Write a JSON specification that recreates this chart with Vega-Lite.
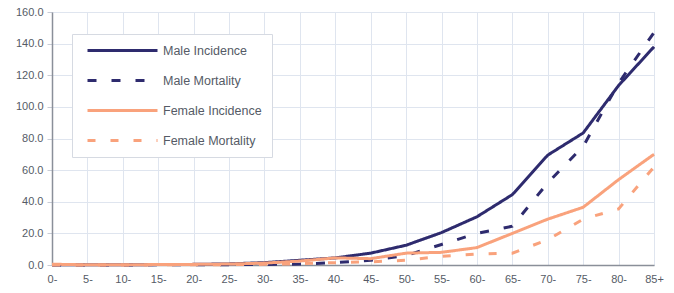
{
  "$schema": "https://vega.github.io/schema/vega-lite/v6.json",
  "width": 602,
  "height": 253,
  "autosize": "none",
  "padding": {"left": 52, "top": 12, "right": 20, "bottom": 28},
  "background": "white",
  "config": {
    "view": {"stroke": "#c8ccd6", "strokeWidth": 1},
    "font": "Liberation Sans"
  },
  "datasets": {
    "d": [
      {"age": "0-", "series": "Male Incidence", "value": 0.2},
      {"age": "5-", "series": "Male Incidence", "value": 0.1},
      {"age": "10-", "series": "Male Incidence", "value": 0.1},
      {"age": "15-", "series": "Male Incidence", "value": 0.3},
      {"age": "20-", "series": "Male Incidence", "value": 0.4},
      {"age": "25-", "series": "Male Incidence", "value": 0.7},
      {"age": "30-", "series": "Male Incidence", "value": 1.5},
      {"age": "35-", "series": "Male Incidence", "value": 3.0},
      {"age": "40-", "series": "Male Incidence", "value": 4.5},
      {"age": "45-", "series": "Male Incidence", "value": 7.5},
      {"age": "50-", "series": "Male Incidence", "value": 12.5},
      {"age": "55-", "series": "Male Incidence", "value": 20.5},
      {"age": "60-", "series": "Male Incidence", "value": 30.5},
      {"age": "65-", "series": "Male Incidence", "value": 44.5},
      {"age": "70-", "series": "Male Incidence", "value": 69.5},
      {"age": "75-", "series": "Male Incidence", "value": 83.5},
      {"age": "80-", "series": "Male Incidence", "value": 113.5},
      {"age": "85+", "series": "Male Incidence", "value": 138.0},
      {"age": "0-", "series": "Male Mortality", "value": 0.0},
      {"age": "5-", "series": "Male Mortality", "value": 0.0},
      {"age": "10-", "series": "Male Mortality", "value": 0.0},
      {"age": "15-", "series": "Male Mortality", "value": 0.1},
      {"age": "20-", "series": "Male Mortality", "value": 0.1},
      {"age": "25-", "series": "Male Mortality", "value": 0.2},
      {"age": "30-", "series": "Male Mortality", "value": 0.3},
      {"age": "35-", "series": "Male Mortality", "value": 0.6},
      {"age": "40-", "series": "Male Mortality", "value": 1.5},
      {"age": "45-", "series": "Male Mortality", "value": 3.0},
      {"age": "50-", "series": "Male Mortality", "value": 6.0},
      {"age": "55-", "series": "Male Mortality", "value": 13.0},
      {"age": "60-", "series": "Male Mortality", "value": 20.0},
      {"age": "65-", "series": "Male Mortality", "value": 24.5},
      {"age": "70-", "series": "Male Mortality", "value": 52.0},
      {"age": "75-", "series": "Male Mortality", "value": 75.0},
      {"age": "80-", "series": "Male Mortality", "value": 115.0},
      {"age": "85+", "series": "Male Mortality", "value": 147.0},
      {"age": "0-", "series": "Female Incidence", "value": 0.5},
      {"age": "5-", "series": "Female Incidence", "value": 0.1},
      {"age": "10-", "series": "Female Incidence", "value": 0.1},
      {"age": "15-", "series": "Female Incidence", "value": 0.3},
      {"age": "20-", "series": "Female Incidence", "value": 0.4},
      {"age": "25-", "series": "Female Incidence", "value": 0.6},
      {"age": "30-", "series": "Female Incidence", "value": 1.2},
      {"age": "35-", "series": "Female Incidence", "value": 2.5},
      {"age": "40-", "series": "Female Incidence", "value": 4.5},
      {"age": "45-", "series": "Female Incidence", "value": 4.0},
      {"age": "50-", "series": "Female Incidence", "value": 7.5},
      {"age": "55-", "series": "Female Incidence", "value": 8.0},
      {"age": "60-", "series": "Female Incidence", "value": 11.0},
      {"age": "65-", "series": "Female Incidence", "value": 20.0},
      {"age": "70-", "series": "Female Incidence", "value": 29.0},
      {"age": "75-", "series": "Female Incidence", "value": 36.5},
      {"age": "80-", "series": "Female Incidence", "value": 54.0},
      {"age": "85+", "series": "Female Incidence", "value": 70.0},
      {"age": "0-", "series": "Female Mortality", "value": 0.0},
      {"age": "5-", "series": "Female Mortality", "value": 0.0},
      {"age": "10-", "series": "Female Mortality", "value": 0.0},
      {"age": "15-", "series": "Female Mortality", "value": 0.1},
      {"age": "20-", "series": "Female Mortality", "value": 0.1},
      {"age": "25-", "series": "Female Mortality", "value": 0.2},
      {"age": "30-", "series": "Female Mortality", "value": 0.4},
      {"age": "35-", "series": "Female Mortality", "value": 0.8},
      {"age": "40-", "series": "Female Mortality", "value": 1.5},
      {"age": "45-", "series": "Female Mortality", "value": 2.0},
      {"age": "50-", "series": "Female Mortality", "value": 3.0},
      {"age": "55-", "series": "Female Mortality", "value": 5.5},
      {"age": "60-", "series": "Female Mortality", "value": 7.0},
      {"age": "65-", "series": "Female Mortality", "value": 7.5},
      {"age": "70-", "series": "Female Mortality", "value": 16.0},
      {"age": "75-", "series": "Female Mortality", "value": 29.0},
      {"age": "80-", "series": "Female Mortality", "value": 35.5},
      {"age": "85+", "series": "Female Mortality", "value": 62.0}
    ]
  },
  "data": {"name": "d"},
  "mark": {"type": "line", "strokeWidth": 3},
  "encoding": {
    "x": {
      "field": "age", "type": "ordinal",
      "sort": ["0-","5-","10-","15-","20-","25-","30-","35-","40-","45-","50-","55-","60-","65-","70-","75-","80-","85+"],
      "scale": {"type": "point", "padding": 0},
      "axis": {
        "title": null, "labelAngle": 0, "labelColor": "#555b66", "labelFontSize": 11,
        "grid": true, "gridColor": "#dfe5ef", "ticks": false, "labelPadding": 8,
        "domainColor": "#8a8f99", "domainWidth": 1.5
      }
    },
    "y": {
      "field": "value", "type": "quantitative",
      "scale": {"domain": [0, 160], "nice": false},
      "axis": {
        "title": null, "values": [0,20,40,60,80,100,120,140,160], "format": ".1f",
        "labelColor": "#555b66", "labelFontSize": 11, "gridColor": "#dfe5ef",
        "tickColor": "#c8ccd6", "tickSize": 5, "labelPadding": 4,
        "domainColor": "#8a8f99", "domainWidth": 1.5
      }
    },
    "color": {
      "field": "series", "type": "nominal",
      "scale": {
        "domain": ["Male Incidence", "Male Mortality", "Female Incidence", "Female Mortality"],
        "range": ["#2e2b6e", "#2e2b6e", "#f9a27c", "#f9a27c"]
      },
      "legend": {
        "title": null, "orient": "none", "legendX": 20, "legendY": 22,
        "symbolType": "M-7,0H7", "symbolSize": 100, "symbolStrokeWidth": 3,
        "symbolOffset": 34,
        "labelFontSize": 12.5, "labelColor": "#555b66", "labelOffset": 34,
        "fillColor": "white", "strokeColor": "#d6dae2", "padding": 10,
        "rowPadding": 17
      }
    },
    "strokeDash": {
      "field": "series", "type": "nominal",
      "scale": {
        "domain": ["Male Incidence", "Male Mortality", "Female Incidence", "Female Mortality"],
        "range": [[1, 0], [9, 15], [1, 0], [8, 15]]
      },
      "legend": null
    }
  }
}
